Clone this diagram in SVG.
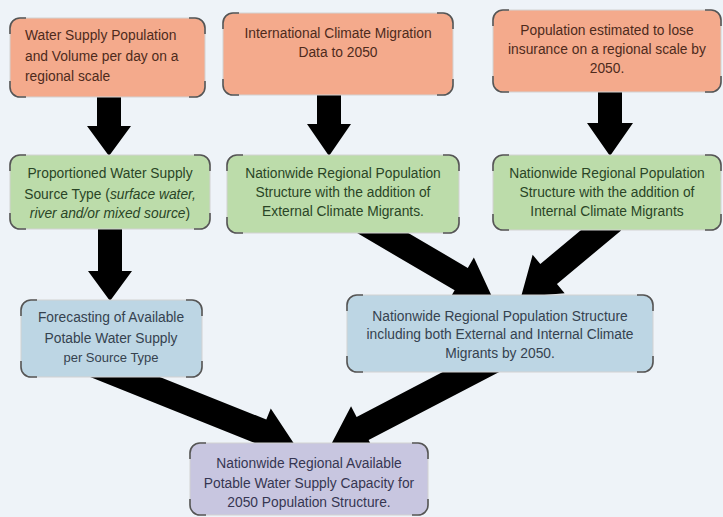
<svg xmlns="http://www.w3.org/2000/svg" width="723" height="517" viewBox="0 0 723 517">
<style>
.bg{fill:#eef3f8}
.box{stroke:#d2d2d2;stroke-width:1}
.or{fill:#f4aa8c}
.gr{fill:#bcdcaa}
.bl{fill:#bdd6e4}
.pu{fill:#c8c6e0}
.cn{fill:none;stroke:#555;stroke-width:1.6}
.arr{fill:#000}
text{font-family:"Liberation Sans",Arial,sans-serif;font-size:13.8px}
.to{fill:#4e2a1c}
.tg{fill:#2a4526}
.tb{fill:#35424f}
.tp{fill:#363652}
.c{text-anchor:middle}
.i{font-style:italic}
</style>
<rect class="bg" x="0" y="0" width="723" height="517"/>
<g id="connectors">
<polygon class="arr" points="97,90 121,90 121,126 131,126 109,156 87,126 97,126"/>
<polygon class="arr" points="317,88 341,88 341,124 351,124 329,156 307,124 317,124"/>
<polygon class="arr" points="598,85 622,85 622,123 633,123 610,156 587,123 598,123"/>
<polygon class="arr" points="98,222 122,222 122,271 132,271 110,301 88,271 98,271"/>
<polygon class="arr" transform="translate(360.3,219.9) rotate(30.4)" points="0,-13 117,-13 117,-25 153,0 117,25 117,13 0,13"/>
<polygon class="arr" transform="translate(612.8,220.5) rotate(140.2)" points="0,-13 83.5,-13 83.5,-25 119.5,0 83.5,25 83.5,13 0,13"/>
<polygon class="arr" transform="translate(92.5,364) rotate(21.8)" points="0,-13 182,-13 182,-25 218,0 182,25 182,13 0,13"/>
<polygon class="arr" transform="translate(495.6,359.1) rotate(152.45)" points="0,-13 150,-13 150,-25 186,0 150,25 150,13 0,13"/>
</g>
<g id="n1">
<rect class="box or" x="10" y="18" width="195" height="79" rx="10"/>
<path class="cn" d="M10,34V28A10,10 0 0 1 20,18H26 M189,18H195A10,10 0 0 1 205,28V34 M205,81V87A10,10 0 0 1 195,97H189 M26,97H20A10,10 0 0 1 10,87V81"/>
<text class="to" x="25" y="40">Water Supply Population</text>
<text class="to" x="25" y="61">and Volume per day on a</text>
<text class="to" x="25" y="81">regional scale</text>
</g>
<g id="n2">
<rect class="box or" x="223" y="13" width="230" height="82" rx="10"/>
<path class="cn" d="M223,29V23A10,10 0 0 1 233,13H239 M437,13H443A10,10 0 0 1 453,23V29 M453,79V85A10,10 0 0 1 443,95H437 M239,95H233A10,10 0 0 1 223,85V79"/>
<text class="to c" x="338" y="38">International Climate Migration</text>
<text class="to c" x="338" y="57">Data to 2050</text>
</g>
<g id="n3">
<rect class="box or" x="493" y="10" width="228" height="82" rx="10"/>
<path class="cn" d="M493,26V20A10,10 0 0 1 503,10H509 M705,10H711A10,10 0 0 1 721,20V26 M721,76V82A10,10 0 0 1 711,92H705 M509,92H503A10,10 0 0 1 493,82V76"/>
<text class="to c" x="607" y="35">Population estimated to lose</text>
<text class="to c" x="607" y="54">insurance on a regional scale by</text>
<text class="to c" x="607" y="73">2050.</text>
</g>
<g id="n4">
<rect class="box gr" x="10" y="155" width="200" height="74" rx="10"/>
<path class="cn" d="M10,171V165A10,10 0 0 1 20,155H26 M194,155H200A10,10 0 0 1 210,165V171 M210,213V219A10,10 0 0 1 200,229H194 M26,229H20A10,10 0 0 1 10,219V213"/>
<text class="tg c" x="110" y="178">Proportioned Water Supply</text>
<text class="tg c" x="110" y="199">Source Type (<tspan class="i">surface water,</tspan></text>
<text class="tg c" x="110" y="218"><tspan class="i">river and/or mixed source</tspan>)</text>
</g>
<g id="n5">
<rect class="box gr" x="227" y="155" width="232" height="78" rx="10"/>
<path class="cn" d="M227,171V165A10,10 0 0 1 237,155H243 M443,155H449A10,10 0 0 1 459,165V171 M459,217V223A10,10 0 0 1 449,233H443 M243,233H237A10,10 0 0 1 227,223V217"/>
<text class="tg c" x="343" y="178">Nationwide Regional Population</text>
<text class="tg c" x="343" y="197">Structure with the addition of</text>
<text class="tg c" x="343" y="216">External Climate Migrants.</text>
</g>
<g id="n6">
<rect class="box gr" x="493" y="155" width="228" height="75" rx="10"/>
<path class="cn" d="M493,171V165A10,10 0 0 1 503,155H509 M705,155H711A10,10 0 0 1 721,165V171 M721,214V220A10,10 0 0 1 711,230H705 M509,230H503A10,10 0 0 1 493,220V214"/>
<text class="tg c" x="607" y="178">Nationwide Regional Population</text>
<text class="tg c" x="607" y="197">Structure with the addition of</text>
<text class="tg c" x="607" y="216">Internal Climate Migrants</text>
</g>
<g id="n7">
<rect class="box bl" x="21" y="300" width="181" height="77" rx="10"/>
<path class="cn" d="M21,316V310A10,10 0 0 1 31,300H37 M186,300H192A10,10 0 0 1 202,310V316 M202,361V367A10,10 0 0 1 192,377H186 M37,377H31A10,10 0 0 1 21,367V361"/>
<text class="tb c" x="111" y="322">Forecasting of Available</text>
<text class="tb c" x="111" y="343">Potable Water Supply</text>
<text class="tb c" x="111" y="362" style="font-size:13px">per Source Type</text>
</g>
<g id="n8">
<rect class="box bl" x="347" y="295" width="306" height="77" rx="10"/>
<path class="cn" d="M347,311V305A10,10 0 0 1 357,295H363 M637,295H643A10,10 0 0 1 653,305V311 M653,356V362A10,10 0 0 1 643,372H637 M363,372H357A10,10 0 0 1 347,362V356"/>
<text class="tb c" x="500" y="321">Nationwide Regional Population Structure</text>
<text class="tb c" x="500" y="339">including both External and Internal Climate</text>
<text class="tb c" x="500" y="358">Migrants by 2050.</text>
</g>
<g id="n9">
<rect class="box pu" x="190" y="443" width="238" height="72" rx="10"/>
<path class="cn" d="M190,459V453A10,10 0 0 1 200,443H206 M412,443H418A10,10 0 0 1 428,453V459 M428,499V505A10,10 0 0 1 418,515H412 M206,515H200A10,10 0 0 1 190,505V499"/>
<text class="tp c" x="309" y="468">Nationwide Regional Available</text>
<text class="tp c" x="309" y="488">Potable Water Supply Capacity for</text>
<text class="tp c" x="309" y="507">2050 Population Structure.</text>
</g>
</svg>
